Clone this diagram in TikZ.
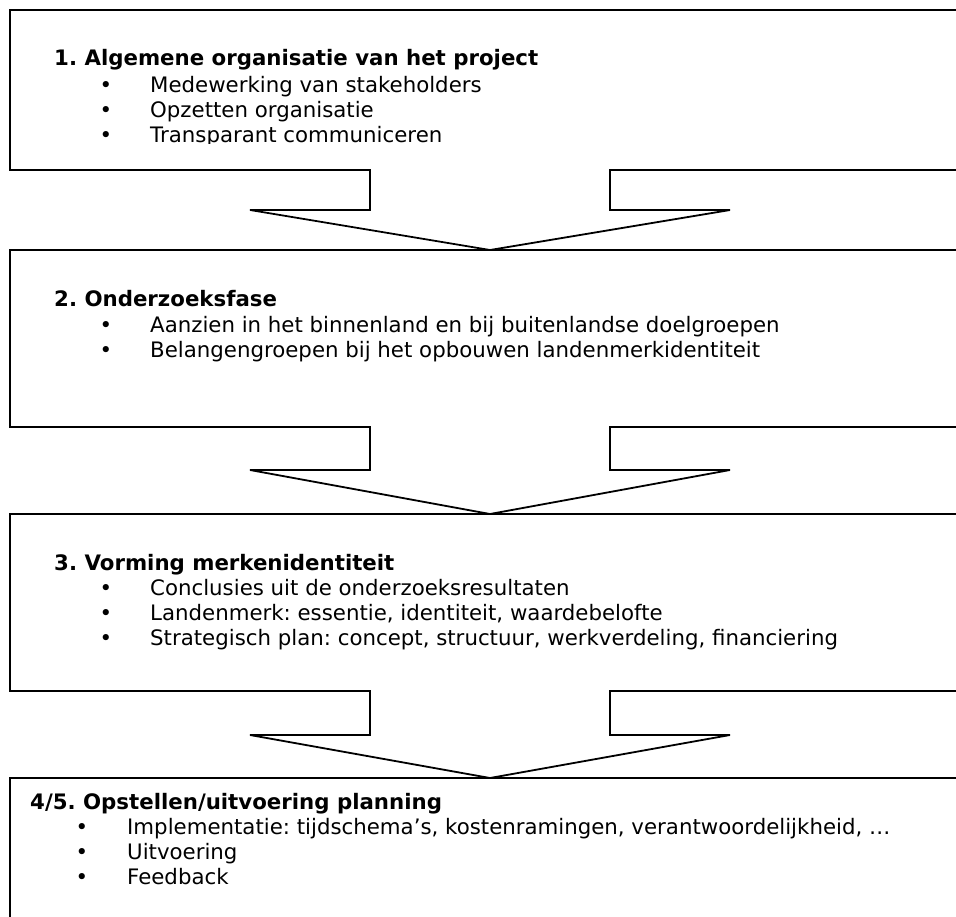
\documentclass[tikz,border=0pt]{standalone}
\usepackage{fontspec}
\setmainfont{DejaVu Sans}
\frenchspacing
\begin{document}
\frenchspacing
\begin{tikzpicture}[x=1pt,y=-1pt,
  txt/.style={inner sep=0pt,anchor=base west,font=\fontsize{21.3}{25}\selectfont},
  ttl/.style={txt,font=\fontsize{21.3}{25}\selectfont\bfseries},
  blt/.style={inner sep=0pt,anchor=base,font=\fontsize{21.3}{25}\selectfont},
  outline/.style={draw=black,line width=1.8pt,line join=miter}]
\useasboundingbox[fill=white] (0,0) rectangle (956,916);
% box 1 with arrow
\draw[outline] (975,10) -- (10,10) -- (10,170) -- (370,170) -- (370,210) -- (250,210)
  -- (490,250) -- (730,210) -- (610,210) -- (610,170) -- (975,170);
% box 2 with arrow
\draw[outline] (975,250) -- (10,250) -- (10,427) -- (370,427) -- (370,470) -- (250,470)
  -- (490,514) -- (730,470) -- (610,470) -- (610,427) -- (975,427);
% box 3 with arrow
\draw[outline] (975,514) -- (10,514) -- (10,691) -- (370,691) -- (370,735) -- (250,735)
  -- (490,778) -- (730,735) -- (610,735) -- (610,691) -- (975,691);
% box 4
\draw[outline] (975,778) -- (10,778) -- (10,930);
% texts box 1
\begin{scope}
\clip (0,10) rectangle (956,143);
\node[ttl] (t1) at (54,65) {1. Algemene organisatie van het project};
\node[blt] (p1a) at (106,92) {•};
\node[txt] (l1a) at (150,92) {Medewerking van stakeholders};
\node[blt] (p1b) at (106,117) {•};
\node[txt] (l1b) at (150,117) {Opzetten organisatie};
\node[blt] (p1c) at (106,142) {•};
\node[txt] (l1c) at (150,142) {Transparant communiceren};
\end{scope}
% texts box 2
\node[ttl] (t2) at (54,306) {2. Onderzoeksfase};
\node[blt] (p2a) at (106,332) {•};
\node[txt] (l2a) at (150,332) {Aanzien in het binnenland en bij buitenlandse doelgroepen};
\node[blt] (p2b) at (106,357) {•};
\node[txt] (l2b) at (150,357) {Belangengroepen bij het opbouwen landenmerkidentiteit};
% texts box 3
\node[ttl] (t3) at (54,570) {3. Vorming merkenidentiteit};
\node[blt] (p3a) at (106,595) {•};
\node[txt] (l3a) at (150,595) {Conclusies uit de onderzoeksresultaten};
\node[blt] (p3b) at (106,620) {•};
\node[txt] (l3b) at (150,620) {Landenmerk: essentie, identiteit, waardebelofte};
\node[blt] (p3c) at (106,645) {•};
\node[txt] (l3c) at (150,645) {Strategisch plan: concept, structuur, werkverdeling, financiering};
% texts box 4
\node[ttl] (t4) at (30,809) {4/5. Opstellen/uitvoering planning};
\node[blt] (p4a) at (82,834) {•};
\node[txt] (l4a) at (127,834) {Implementatie: tijdschema’s, kostenramingen, verantwoordelijkheid, …};
\node[blt] (p4b) at (82,859) {•};
\node[txt] (l4b) at (127,859) {Uitvoering};
\node[blt] (p4c) at (82,884) {•};
\node[txt] (l4c) at (127,884) {Feedback};
\end{tikzpicture}
\end{document}
